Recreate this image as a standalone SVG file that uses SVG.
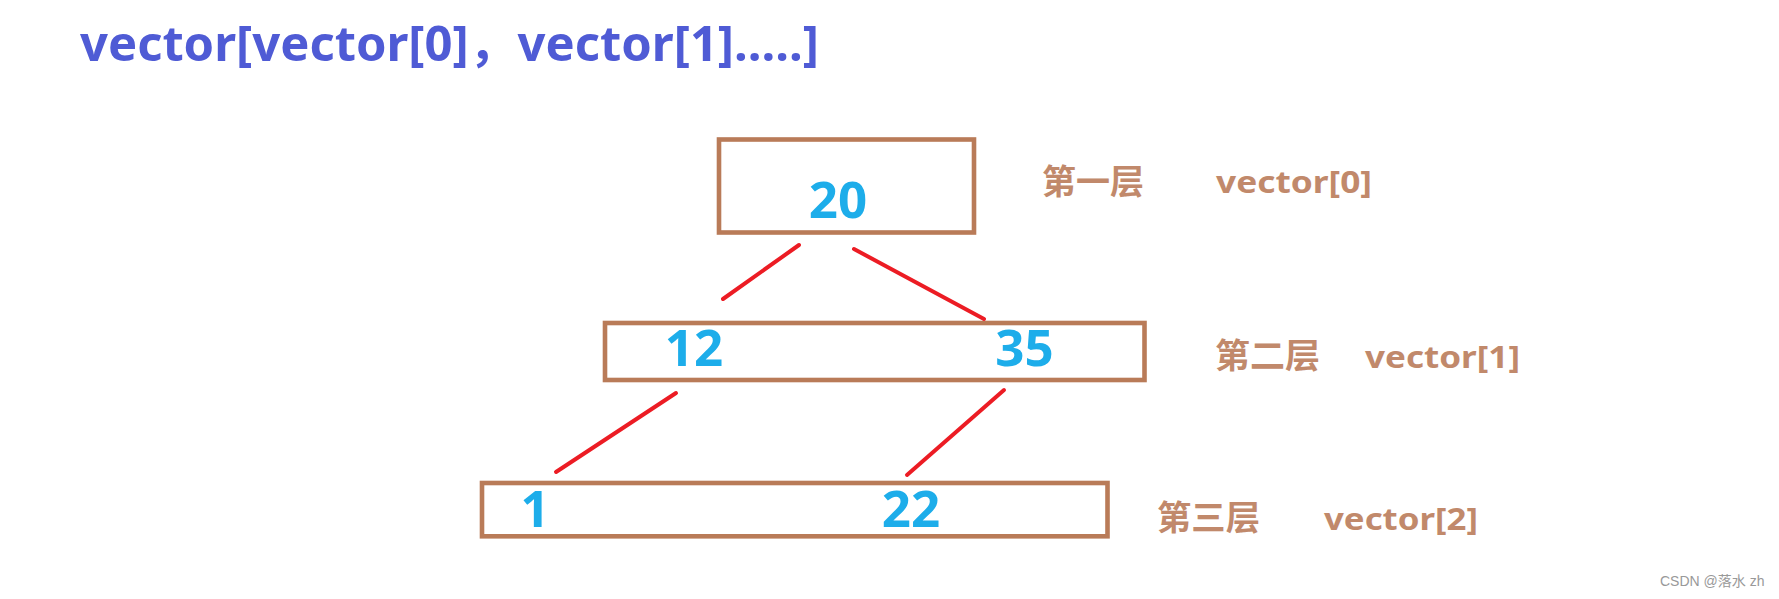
<svg xmlns="http://www.w3.org/2000/svg" width="1779" height="599" viewBox="0 0 1779 599">
<style>
.box{fill:none;stroke:#b97b58;stroke-width:4.6}
.num{font-family:"Noto Sans","Open Sans","Liberation Sans",sans-serif;font-weight:bold;font-size:51px;fill:#1dadea;text-anchor:middle}
.cn{font-family:"Noto Sans CJK SC",sans-serif;font-weight:bold;font-size:34px;fill:#c1896b}
.lv{font-family:"Noto Sans","Open Sans","Liberation Sans",sans-serif;font-weight:bold;font-size:31px;fill:#c1896b}
.edge{stroke:#ec1c24;stroke-width:4;stroke-linecap:round;fill:none}
</style>
<rect width="1779" height="599" fill="#ffffff"/>
<text id="title" x="80" y="61" font-family="'Noto Sans','Open Sans','Noto Sans CJK SC',sans-serif" font-weight="bold" font-size="48" fill="#4f5bd5" textLength="739" lengthAdjust="spacingAndGlyphs">vector[vector[0]，vector[1].....]</text>
<g id="level1">
<rect class="box" x="719" y="139.5" width="255" height="93"/>
<text class="num" x="838" y="218">20</text>
<text class="cn" x="1042" y="194" textLength="102" lengthAdjust="spacingAndGlyphs">第一层</text>
<text class="lv" x="1216" y="193" textLength="156" lengthAdjust="spacingAndGlyphs">vector[0]</text>
</g>
<g id="level2">
<rect class="box" x="605" y="323" width="539.5" height="57"/>
<text class="num" x="694" y="366">12</text>
<text class="num" x="1024.5" y="366">35</text>
<text class="cn" x="1215" y="368" textLength="105" lengthAdjust="spacingAndGlyphs">第二层</text>
<text class="lv" x="1365" y="368" textLength="155" lengthAdjust="spacingAndGlyphs">vector[1]</text>
</g>
<g id="level3">
<rect class="box" x="482" y="483" width="625.5" height="53.3"/>
<text class="num" x="535" y="527">1</text>
<text class="num" x="911" y="527">22</text>
<text class="cn" x="1157" y="530" textLength="103" lengthAdjust="spacingAndGlyphs">第三层</text>
<text class="lv" x="1324" y="530" textLength="154" lengthAdjust="spacingAndGlyphs">vector[2]</text>
</g>
<g id="connectors">
<line class="edge" x1="799" y1="245" x2="723" y2="299"/>
<line class="edge" x1="854" y1="249" x2="984" y2="319"/>
<line class="edge" x1="676" y1="393" x2="556" y2="472"/>
<line class="edge" x1="1004" y1="390" x2="907" y2="475"/>
</g>
<text id="watermark" x="1660" y="586" font-family="'Liberation Sans','Noto Sans CJK SC',sans-serif" font-size="14" fill="#999999">CSDN @落水 zh</text>
</svg>
